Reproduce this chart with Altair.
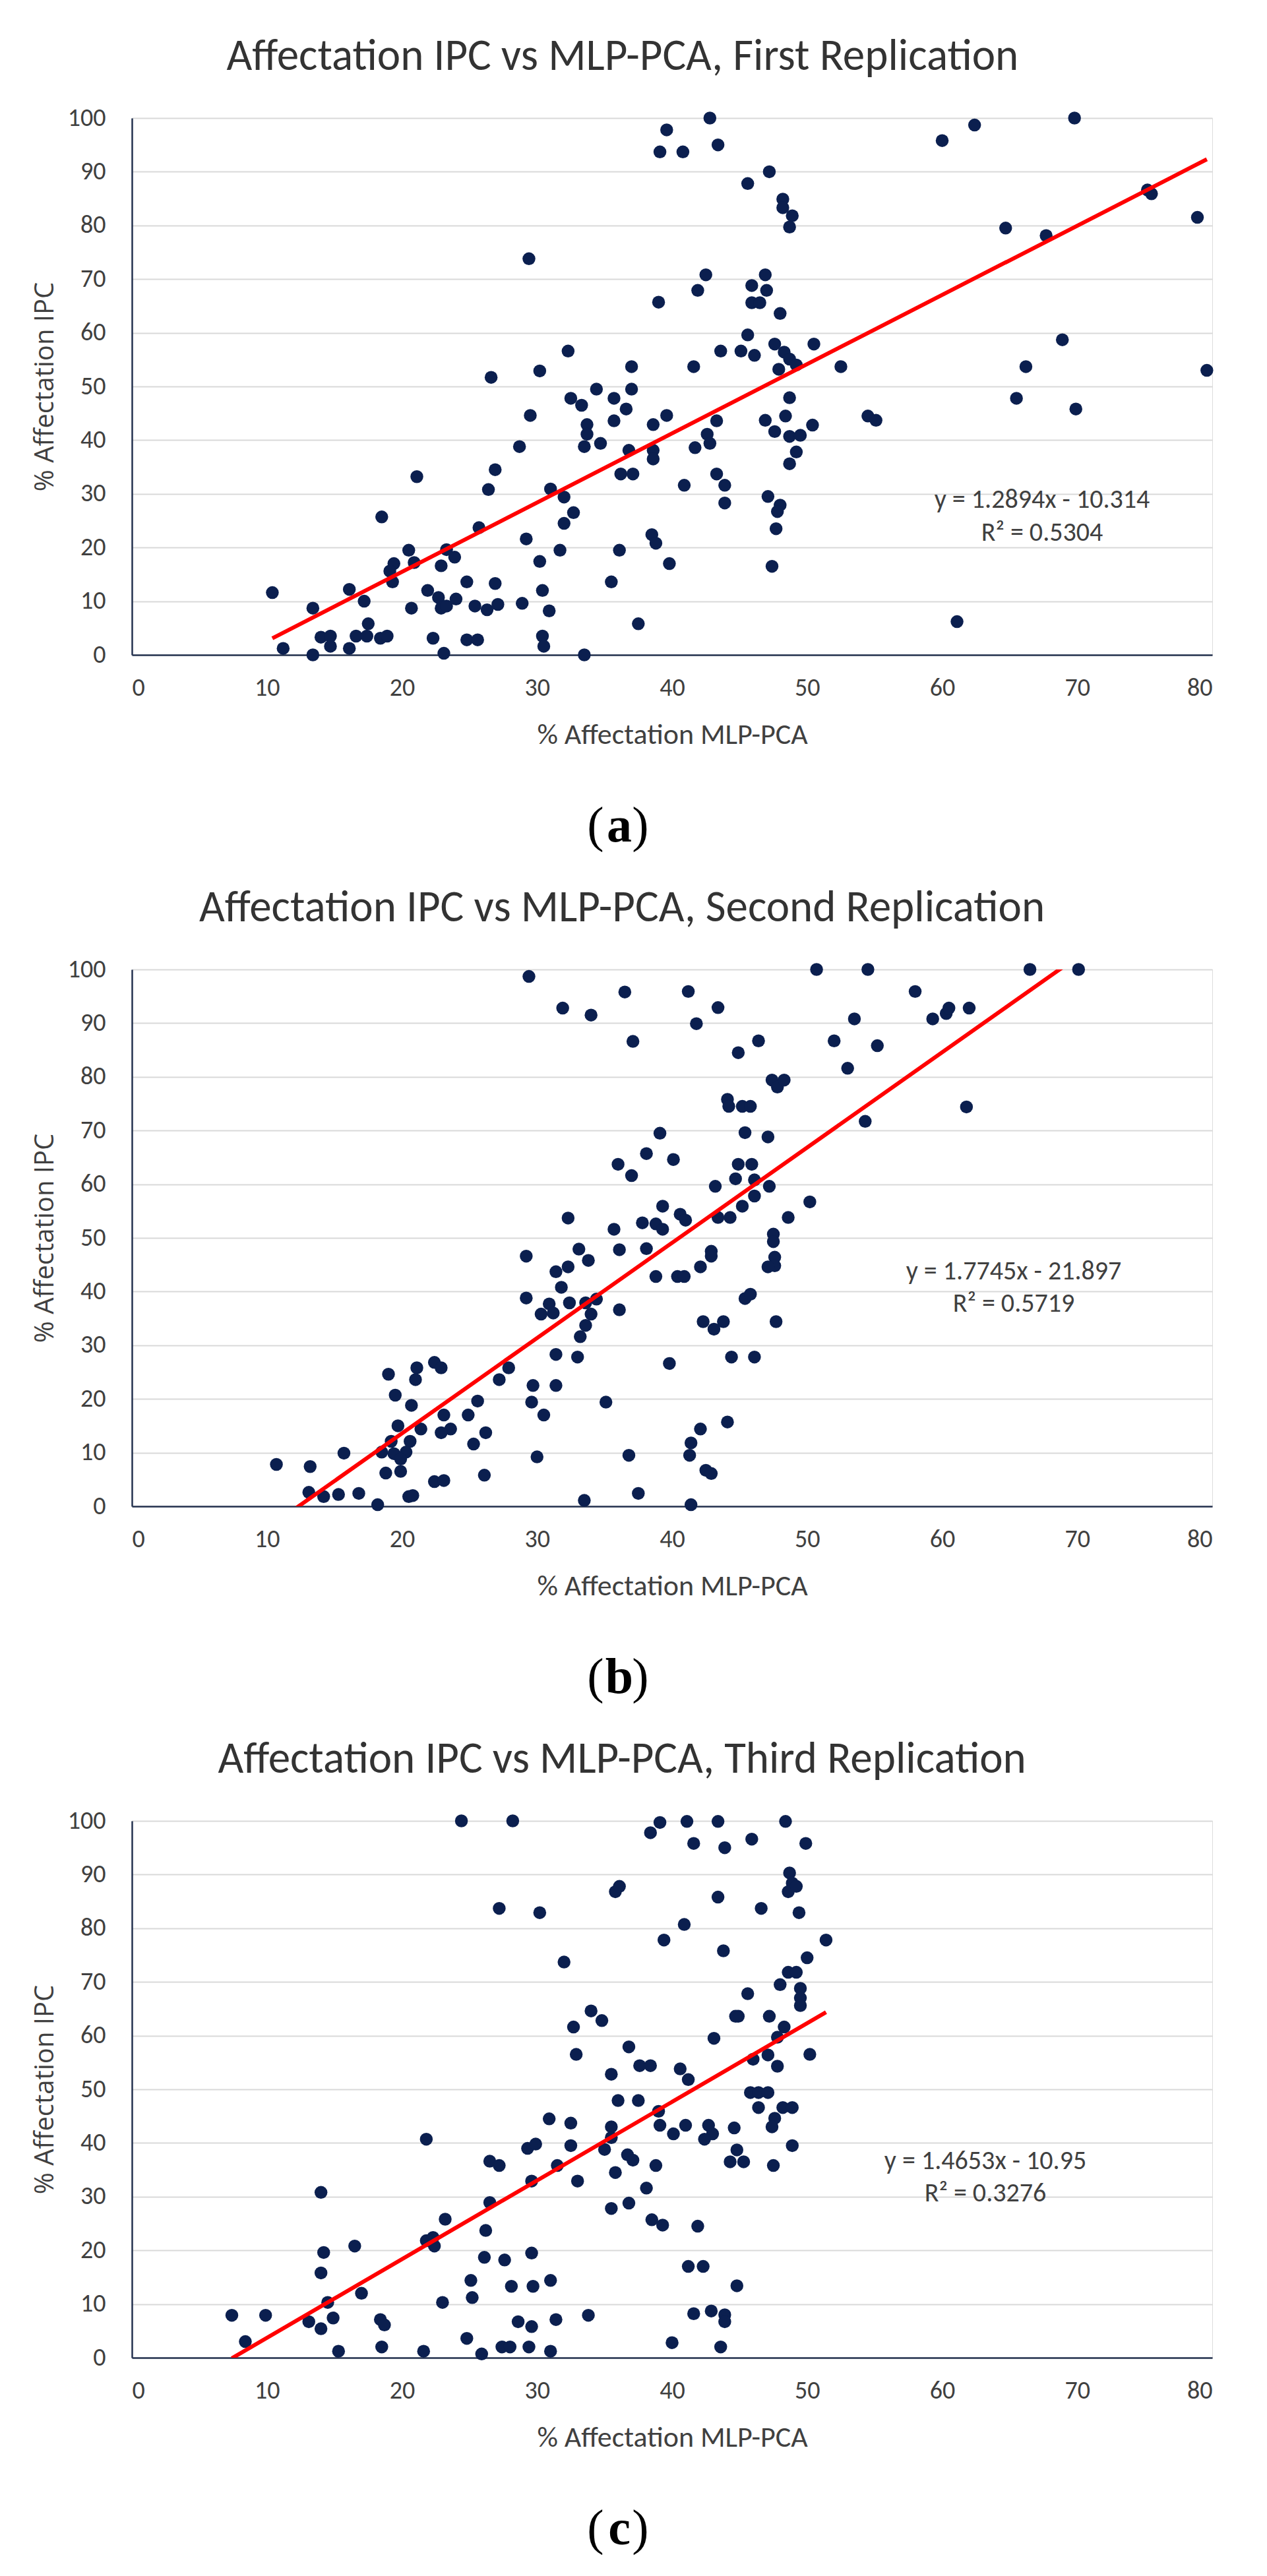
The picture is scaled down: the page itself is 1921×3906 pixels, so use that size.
import altair as alt
import pandas as pd

FONT = "Carlito, Liberation Sans Narrow, sans-serif"
YFONT = "Open Sans, DejaVu Sans, sans-serif"
SERIF = "Liberation Serif, DejaVu Serif, serif"
DOT = "#0b1f4f"
TXT = "#404040"

# ---------------- Panel (a) : First Replication ----------------
a_x = [39.6, 39.1, 40.8, 29.4, 39.0, 41.9, 32.3, 30.2, 26.6, 37.0,
       41.6, 34.4, 32.5, 33.3, 35.7, 37.0, 36.6, 29.5, 35.7, 33.7,
       33.7, 33.5, 34.7, 28.7, 38.6, 39.6, 38.6, 38.6, 36.8, 36.2,
       37.1, 41.7, 40.9, 26.9, 26.4, 31.0, 32.0, 32.7, 32.0, 21.1,
       18.5, 25.7, 29.2, 31.7, 30.2, 36.1, 38.5, 38.8, 39.8, 35.5,
       37.5, 33.5, 20.5, 20.9, 19.4, 19.1, 19.3, 23.3, 23.9, 22.9,
       10.4, 16.1, 17.2, 13.4, 11.2, 13.4, 14.0, 14.7, 14.7, 16.1,
       16.6, 17.5, 17.4, 18.4, 18.9, 20.7, 21.9, 22.7, 22.9, 23.3,
       24.0, 24.8, 25.4, 26.3, 26.9, 27.1, 28.9, 30.4, 30.9, 22.3,
       23.1, 24.8, 25.6, 30.4, 30.5,
       42.8, 43.4, 47.2, 45.6, 48.2, 48.2, 48.9, 48.7, 42.5, 46.9,
       45.9, 47.0, 45.9, 46.5, 48.0, 45.6, 43.6, 45.1, 46.1, 47.6,
       48.3, 48.7, 47.9, 49.2, 50.5, 52.5, 43.3, 48.7, 48.4, 46.9,
       47.6, 48.7, 49.5, 50.4, 49.2, 48.7, 42.6, 42.8, 54.5, 55.1,
       43.3, 43.9, 43.9, 47.1, 48.0, 47.8, 47.7, 47.4,
       60.0, 61.1, 62.4, 64.7, 65.5, 66.2, 67.7, 68.9, 69.8, 69.9,
       75.2, 75.5, 78.9, 79.6]
a_y = [97.8, 93.7, 93.7, 73.8, 65.7, 67.9, 56.6, 52.9, 51.7, 53.7,
       53.7, 49.5, 47.8, 46.5, 47.8, 49.5, 45.8, 44.6, 43.6, 42.9,
       41.1, 38.8, 39.4, 38.8, 42.9, 44.6, 38.1, 36.5, 38.1, 33.7,
       33.7, 38.6, 31.6, 34.5, 30.8, 30.9, 29.4, 26.5, 24.5, 33.2,
       25.7, 23.7, 21.6, 19.5, 17.4, 19.5, 22.4, 20.8, 17.0, 13.6,
       5.8, 0.0, 19.5, 17.2, 17.0, 15.6, 13.6, 19.6, 18.2, 16.6,
       11.6, 12.2, 10.0, 8.7, 1.2, 0.0, 3.3, 3.5, 1.6, 1.2,
       3.5, 5.8, 3.5, 3.1, 3.5, 8.7, 12.0, 10.7, 8.7, 9.1,
       10.4, 13.6, 9.1, 8.4, 13.3, 9.4, 9.6, 12.0, 8.2, 3.1,
       0.3, 2.8, 2.8, 3.5, 1.6,
       100.0, 95.0, 90.0, 87.8, 84.9, 83.3, 81.8, 79.7, 70.8, 70.8,
       68.8, 67.9, 65.6, 65.6, 63.6, 59.6, 56.6, 56.6, 55.8, 57.9,
       56.4, 55.1, 53.2, 54.0, 57.9, 53.7, 43.6, 47.9, 44.5, 43.7,
       41.6, 40.7, 40.9, 42.8, 37.8, 35.6, 41.1, 39.4, 44.5, 43.7,
       33.7, 31.6, 28.3, 29.5, 27.9, 26.7, 23.5, 16.5,
       95.8, 6.2, 98.7, 79.5, 47.8, 53.7, 78.1, 58.7, 100.0, 45.8,
       86.6, 85.9, 81.5, 53.0]

# ---------------- Panel (b) : Second Replication ----------------
b_x = [29.4, 31.9, 34.0, 36.5, 37.1, 39.1, 38.1, 40.1, 36.0, 37.0,
       32.3, 39.3, 40.6, 41.0, 37.8, 38.8, 39.3, 35.7, 36.1, 38.1,
       33.1, 29.2, 33.8, 32.3, 31.4, 38.8, 40.4, 40.9, 31.8, 29.2,
       30.9, 30.3, 31.2, 32.4, 33.6, 34.4, 34.0, 33.6, 33.2, 36.1,
       31.4, 33.0, 39.8, 22.4, 22.9, 21.1, 19.0, 21.0, 19.5, 20.7,
       23.1, 23.6, 22.9, 21.4, 19.7, 20.6, 19.2, 18.5, 19.4, 20.3,
       19.9, 18.8, 19.9, 27.2, 27.9, 25.6, 24.9, 26.2, 25.3, 26.1,
       22.4, 23.1, 20.5, 20.8, 18.2, 16.8, 15.3, 14.2, 13.1, 13.2,
       15.7, 10.7, 29.7, 31.4, 29.6, 30.5, 35.1, 30.0, 36.8, 33.5,
       37.5,
       50.7, 54.5, 58.0, 59.3, 53.5, 55.2, 52.0, 53.0, 54.3, 41.2,
       41.8, 43.4, 44.9, 46.4, 47.4, 47.8, 48.3, 44.1, 44.2, 45.2,
       45.8, 45.4, 47.1, 44.9, 45.9, 44.7, 43.2, 46.1, 47.2, 46.1,
       45.2, 50.2, 43.4, 44.3, 48.6, 47.5, 47.5, 42.9, 42.1, 42.9,
       47.6, 47.6, 47.1, 45.4, 45.8, 42.3, 43.1, 43.8, 47.7, 44.4,
       46.1, 44.1, 42.1, 41.4, 41.3, 42.5, 42.9, 41.4,
       66.5, 70.1, 60.3, 60.5, 62.0, 61.8]
b_y = [98.7, 92.8, 91.5, 95.8, 86.6, 69.5, 65.7, 64.6, 63.7, 61.6,
       53.7, 55.9, 54.4, 53.3, 52.8, 52.6, 51.6, 51.6, 47.8, 48.0,
       47.9, 46.6, 45.8, 44.6, 43.7, 42.8, 42.8, 42.8, 40.8, 38.8,
       37.7, 35.8, 36.0, 37.9, 37.9, 38.6, 35.8, 33.7, 31.6, 36.6,
       28.3, 27.8, 26.6, 26.8, 25.8, 25.8, 24.6, 23.6, 20.7, 18.8,
       17.0, 14.4, 13.7, 14.4, 15.0, 12.1, 12.1, 10.1, 9.8, 10.1,
       8.8, 6.2, 6.5, 23.6, 25.8, 19.6, 17.0, 13.7, 11.6, 5.8,
       4.6, 4.8, 1.8, 2.0, 0.3, 2.4, 2.2, 1.8, 2.6, 7.4,
       9.9, 7.8, 22.5, 22.5, 19.4, 17.0, 19.4, 9.2, 9.5, 1.1,
       2.4,
       100.0, 100.0, 95.9, 90.8, 90.8, 85.8, 86.7, 81.6, 71.7, 95.9,
       89.9, 92.9, 84.5, 86.7, 79.4, 78.1, 79.4, 75.8, 74.5, 74.5,
       74.5, 69.6, 68.8, 63.7, 63.7, 61.0, 59.6, 60.8, 59.6, 57.8,
       55.9, 56.7, 53.8, 53.8, 53.8, 50.7, 49.3, 47.5, 44.6, 46.6,
       46.4, 44.8, 44.6, 38.7, 39.5, 34.4, 33.0, 34.4, 34.4, 27.8,
       27.8, 15.7, 14.4, 11.8, 9.5, 6.7, 6.1, 0.3,
       100.0, 100.0, 91.8, 92.8, 92.8, 74.4]

# ---------------- Panel (c) : Third Replication ----------------
c_x = [24.4, 28.2, 38.4, 39.1, 41.1, 41.6, 35.8, 36.1, 27.2, 30.2,
       40.9, 39.4, 32.0, 34.0, 34.8, 32.7, 32.9, 36.8, 37.6, 38.4,
       35.5, 40.6, 41.2, 36.0, 37.5, 30.9, 32.5, 39.0, 39.1, 35.5,
       35.5, 32.5, 40.1, 41.0, 29.3, 29.9, 21.8, 26.5, 27.2, 35.0,
       36.7, 37.1, 31.5, 29.6, 33.0, 35.8, 38.8, 38.1, 26.5, 35.5,
       36.8, 38.5, 39.3, 14.0, 23.2, 21.8, 22.3, 22.4, 26.2, 16.5,
       14.2, 14.0, 26.1, 27.6, 29.6, 25.1, 28.1, 29.7, 31.0, 25.2,
       17.0, 14.5, 23.0, 7.4, 9.9, 13.1, 14.0, 14.9, 18.4, 18.7,
       28.6, 29.6, 31.4, 33.8, 8.4, 15.3, 18.5, 21.6, 24.8, 25.9,
       27.4, 28.0, 29.4, 31.0, 40.0,
       43.4, 48.4, 43.9, 45.9, 49.9, 48.7, 48.9, 48.6, 49.2, 43.4,
       46.6, 49.4, 51.4, 43.8, 50.0, 48.6, 49.2, 48.0, 49.5, 49.5,
       49.5, 45.6, 44.9, 44.7, 47.2, 48.3, 47.8, 43.1, 46.0, 47.1,
       47.8, 50.2, 45.8, 46.4, 47.1, 46.4, 48.2, 48.9, 47.6, 47.4,
       42.7, 43.0, 42.4, 44.6, 48.9, 44.8, 44.3, 45.3, 47.5, 41.9,
       41.2, 42.3, 44.8, 41.6, 42.9, 43.9, 43.9, 43.6]
c_y = [100.0, 100.0, 97.8, 99.7, 99.9, 95.8, 86.8, 87.8, 83.7, 82.9,
       80.7, 77.8, 73.7, 64.6, 62.8, 61.6, 56.5, 57.9, 54.4, 54.4,
       52.8, 53.8, 51.8, 47.9, 47.9, 44.5, 43.7, 45.9, 43.3, 43.0,
       41.0, 39.5, 41.7, 43.3, 39.0, 39.8, 40.7, 36.6, 35.8, 38.8,
       37.8, 36.8, 35.8, 32.9, 32.9, 34.5, 35.8, 31.6, 28.9, 27.8,
       28.8, 25.7, 24.7, 30.8, 25.8, 21.8, 22.4, 20.8, 23.7, 20.8,
       19.6, 15.8, 18.7, 18.2, 19.5, 14.4, 13.3, 13.3, 14.4, 11.2,
       12.0, 10.3, 10.3, 7.9, 7.9, 6.7, 5.4, 7.4, 7.1, 6.1,
       6.7, 5.8, 7.1, 7.9, 3.0, 1.2, 2.0, 1.2, 3.6, 0.7,
       2.0, 2.0, 2.0, 1.2, 2.8,
       99.9, 99.9, 95.0, 96.6, 95.8, 90.3, 88.4, 86.8, 87.8, 85.8,
       83.7, 82.9, 77.8, 75.8, 74.5, 71.8, 71.8, 69.5, 68.8, 67.0,
       65.6, 67.8, 63.6, 63.6, 63.6, 61.6, 59.7, 59.5, 55.6, 56.4,
       54.3, 56.5, 49.4, 49.4, 49.4, 46.6, 46.6, 46.6, 44.6, 43.0,
       43.3, 41.7, 40.7, 42.8, 39.5, 38.7, 36.5, 36.5, 35.8, 24.5,
       17.0, 17.0, 13.4, 8.2, 8.7, 8.0, 6.7, 2.0]

titles = ["Affectation IPC vs MLP-PCA, First Replication",
          "Affectation IPC vs MLP-PCA, Second Replication",
          "Affectation IPC vs MLP-PCA, Third Replication"]
slopes = [1.2894, 1.7745, 1.4653]
intercepts = [-10.314, -21.897, -10.95]
equations = ["y = 1.2894x - 10.314", "y = 1.7745x - 21.897", "y = 1.4653x - 10.95"]
r2_texts = ["R\u00b2 = 0.5304", "R\u00b2 = 0.5719", "R\u00b2 = 0.3276"]
eq_x = [67.4, 65.3, 63.2]
eq_y = [28.9, 43.7, 36.6]
r2_y = [22.7, 37.7, 30.6]
letters = ["a", "b", "c"]

W, H = 1638, 814
xscale = alt.Scale(domain=[0, 80], nice=False, zero=False)
yscale = alt.Scale(domain=[0, 100], nice=False)


def label_part(t, xpos, bold):
    return alt.Chart(pd.DataFrame({"t": [t]})).mark_text(
        font=SERIF, fontSize=76, fontWeight="bold" if bold else "normal",
        color="#000000", align="center", baseline="alphabetic").encode(
        x=alt.value(xpos), y=alt.value(H + 283), text="t:N")


def panel(xs, ys, i):
    df = pd.DataFrame({"x": xs, "y": ys})
    x0, x1 = min(xs), max(xs)
    line_df = pd.DataFrame({"x": [x0, x1],
                            "y": [slopes[i] * x0 + intercepts[i],
                                  slopes[i] * x1 + intercepts[i]]})
    xaxis = alt.Axis(values=list(range(0, 81, 10)), grid=False, ticks=False,
                     tickSize=0, labelFont=FONT, labelFontSize=38,
                     labelColor=TXT, labelPadding=31, domainColor="#24324f",
                     domainWidth=2.5, title="% Affectation MLP-PCA",
                     titleFont=FONT, titleFontSize=44, titleFontWeight="normal",
                     titleColor=TXT, titlePadding=30)
    yaxis = alt.Axis(values=list(range(0, 101, 10)), grid=True,
                     gridColor="#d9d9d9", gridWidth=2, ticks=False, tickSize=0,
                     labelFont=FONT, labelFontSize=38, labelColor=TXT,
                     labelPadding=40, domainColor="#24324f", domainWidth=2.5,
                     title="% Affectation IPC", titleFont=YFONT,
                     titleFontSize=40, titleFontWeight="normal",
                     titleColor=TXT, titlePadding=14)
    pts = alt.Chart(df).mark_circle(size=380, color=DOT, opacity=1).encode(
        x=alt.X("x:Q", scale=xscale, axis=xaxis),
        y=alt.Y("y:Q", scale=yscale, axis=yaxis),
    )
    trend = alt.Chart(line_df).mark_line(color="#ff0000", strokeWidth=6,
                                          clip=True).encode(
        x=alt.X("x:Q", scale=xscale), y=alt.Y("y:Q", scale=yscale))
    ann_df = pd.DataFrame({"x": [eq_x[i], eq_x[i]], "y": [eq_y[i], r2_y[i]],
                           "t": [equations[i], r2_texts[i]]})
    ann = alt.Chart(ann_df).mark_text(font=FONT, fontSize=40, color=TXT,
                                      align="center", baseline="middle").encode(
        x=alt.X("x:Q", scale=xscale), y=alt.Y("y:Q", scale=yscale), text="t:N")
    return alt.layer(pts, trend, ann,
                     label_part("(", 703, False),
                     label_part(letters[i], 739, True),
                     label_part(")", 771, False)).properties(
        width=W, height=H,
        title=alt.Title(titles[i], font=FONT, fontSize=67,
                        fontWeight="normal", color="#333333",
                        anchor="middle", frame="bounds", offset=40))


chart = alt.vconcat(panel(a_x, a_y, 0), panel(b_x, b_y, 1),
                    panel(c_x, c_y, 2), spacing=50).properties(
    padding={"left": 39, "top": 43, "right": 10, "bottom": 5}
).configure_view(stroke=None).configure(background="white")

chart.save("out.html", embed_options={"renderer": "svg", "actions": False})
